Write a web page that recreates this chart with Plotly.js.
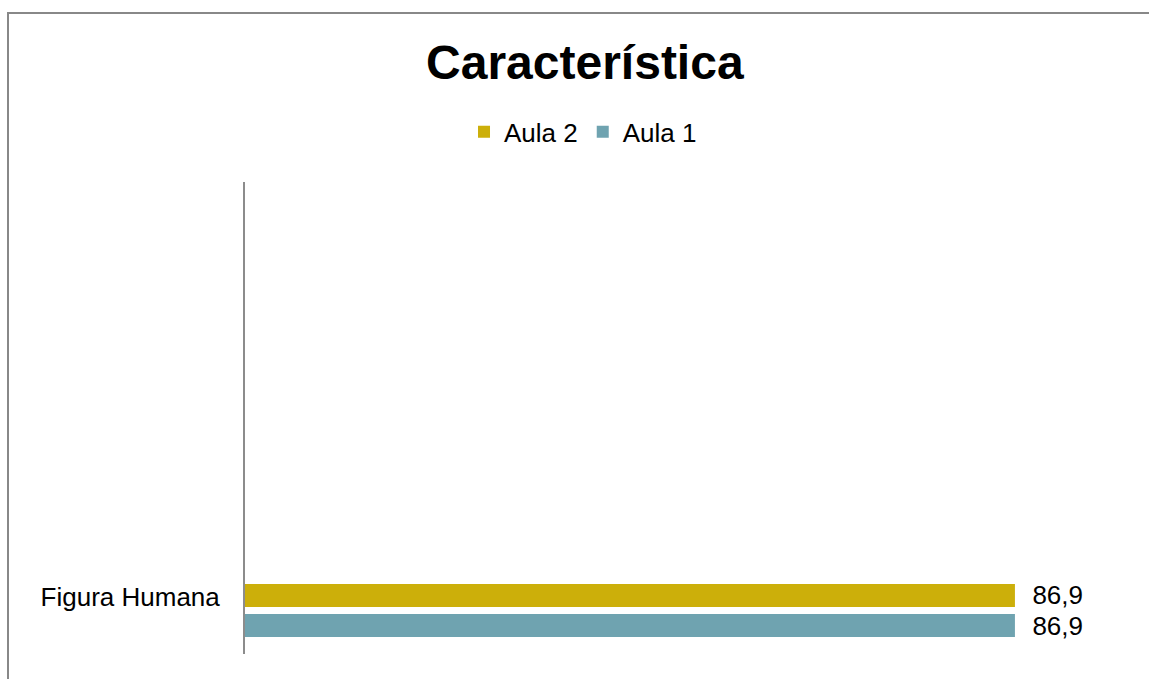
<!DOCTYPE html>
<html>
<head>
<meta charset="utf-8">
<script src="https://cdn.plot.ly/plotly-3.0.1.min.js"></script>
<style>
  html, body { margin: 0; padding: 0; background: #fff; }
  #chart { width: 1149px; height: 679px; }
  #frame { position: absolute; left: 7px; top: 12px; width: 1200px; height: 700px;
           border-left: 2px solid #888; border-top: 2px solid #888; pointer-events: none; }
</style>
</head>
<body>
<div id="chart"></div>
<div id="frame"></div>
<script>
const categories = ["Figura Humana"];
const seriesNames = ["Aula 1", "Aula 2"];
const aula1 = [86.9];
const aula2 = [86.9];

const colors = { "Aula 1": "#6FA3B0", "Aula 2": "#CCAF0A" };
const FONT = "Liberation Sans, Arial, sans-serif";

const traces = [
  { name: seriesNames[0], values: aula1 },
  { name: seriesNames[1], values: aula2 }
].map(s => ({
  type: "bar",
  orientation: "h",
  name: s.name,
  y: categories,
  x: s.values,
  marker: { color: colors[s.name] },
  texttemplate: "\u00a0\u00a0%{x:.1f}",
  textposition: "outside",
  constraintext: "none",
  cliponaxis: false,
  textfont: { family: FONT, size: 26, color: "#000" },
  hoverinfo: "x+name"
}));

const layout = {
  width: 1149,
  height: 679,
  separators: ",.",
  paper_bgcolor: "#fff",
  plot_bgcolor: "#fff",
  font: { family: FONT, size: 26, color: "#000" },
  margin: { l: 245, r: 18, t: 182, b: 25 },
  barmode: "group",
  bargap: 0.31,
  bargroupgap: 0.233,
  title: {
    text: "<b>Característica</b>",
    font: { family: FONT, size: 48, color: "#000" },
    x: 0.509, xref: "container", xanchor: "center",
    y: 1 - 62 / 679, yref: "container", yanchor: "middle"
  },
  showlegend: true,
  legend: {
    orientation: "h",
    traceorder: "reversed",
    x: 0.3815, xanchor: "center",
    y: 1.106, yanchor: "middle",
    font: { family: FONT, size: 26, color: "#000" },
    itemwidth: 30,
    bgcolor: "rgba(0,0,0,0)"
  },
  xaxis: {
    range: [0, 100],
    visible: false,
    showgrid: false,
    zeroline: false,
    fixedrange: true
  },
  yaxis: {
    type: "category",
    range: [-0.5, 4.925],
    showline: true,
    linecolor: "#8c8c8c",
    linewidth: 2,
    showgrid: false,
    zeroline: false,
    ticks: "",
    ticklabelstandoff: 18,
    ticklabelshift: -14,
    tickfont: { family: FONT, size: 26, color: "#000" },
    fixedrange: true
  }
};

Plotly.newPlot("chart", traces, layout, { displayModeBar: false, staticPlot: true });
</script>
</body>
</html>
